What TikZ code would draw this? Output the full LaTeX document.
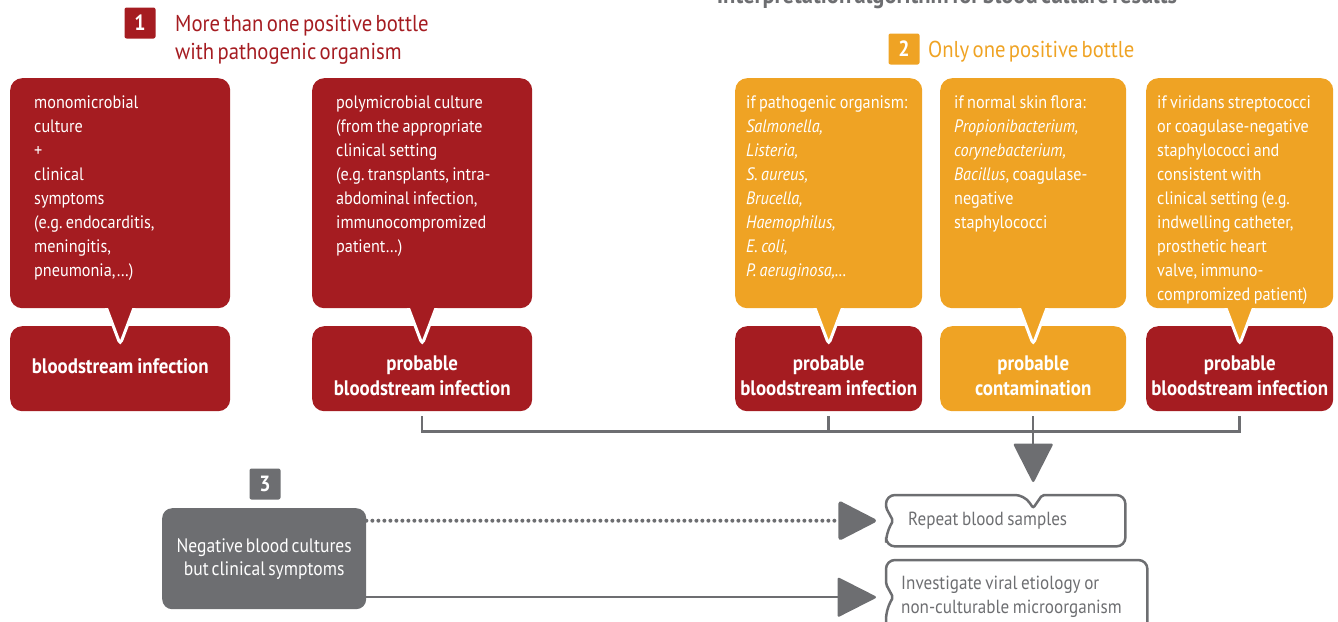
\documentclass[tikz,border=0pt]{standalone}
\usepackage{fontspec}
\setmainfont{PT Sans}[FakeStretch=0.9,WordSpace=0.6]
\usetikzlibrary{calc,arrows.meta}
\definecolor{bred}{HTML}{A51C21}
\definecolor{borange}{HTML}{EFA324}
\definecolor{bgray}{HTML}{6D6E71}
\tikzset{
  tight/.style={execute at begin node={\spaceskip=0.19em\xspaceskip=0.19em\hyphenpenalty=10000}},
  cond/.style={tight,anchor=north west,rounded corners=12,text=white,align=left,
    font=\fontsize{18}{24}\selectfont,inner ysep=14,text height=16,text depth=186},
  result/.style={tight,anchor=north west,rounded corners=12,text=white,align=center,
    font=\fontsize{21}{25}\selectfont\bfseries,inner sep=0,text height=44,text depth=41},
  badge/.style={rounded corners=2,text=white,font=\fontsize{22}{22}\selectfont\bfseries,
    minimum size=31,inner sep=0},
  header/.style={inner sep=0,align=left,font=\fontsize{23}{28}\selectfont},
  conn/.style={draw=bgray,line width=2.5},
  bighead/.style={-{Triangle[length=40pt,width=40pt,round]}},
  dotline/.style={line width=4,dash pattern=on 0pt off 6pt,line cap=round},
  actbox/.style={tight,anchor=north west,text=bgray,align=left,inner ysep=0,
    font=\fontsize{19}{24}\selectfont},
  boxline/.style={draw=bgray,line width=2.5},
  negbox/.style={anchor=north west,fill=bgray,rounded corners=10,text=white,align=center,
    minimum width=204,minimum height=101,inner sep=0,font=\fontsize{19.5}{23}\selectfont}
}
\begin{document}
\begin{tikzpicture}[x=1pt,y=-1pt]
\useasboundingbox (0,0) rectangle (1338,621);
% titles
\node[anchor=base,text=bgray,font=\fontsize{25}{25}\selectfont\bfseries] (title) at (947,4)
  {Interpretation algorithm for blood culture results};
\node[badge,fill=bred] (b1) at (140,23) {1};
\node[header,text=bred,anchor=west] (h1) at (175,40) {More than one positive bottle\\with pathogenic organism};
\node[badge,fill=borange] (b2) at (904,49) {2};
\node[header,text=borange,anchor=base west] (h2) at (928,57) {Only one positive bottle};
% conditions
\node[cond,fill=bred,text width=172,inner xsep=24] (c1) at (10,78)
  {monomicrobial\\culture\\+\\clinical\\symptoms\\(e.g. endocarditis,\\meningitis,\\pneumonia,\ldots)};
\node[cond,fill=bred,text width=172,inner xsep=24] (c2) at (312,78)
  {polymicrobial culture\\(from the appropriate\\clinical setting\\(e.g. transplants, intra-\\abdominal infection,\\immunocompromized\\patient\ldots)};
\node[cond,fill=borange,text width=165,inner xsep=11] (c3) at (735,78)
  {if pathogenic organism:\\\textit{Salmonella,}\\\textit{Listeria,}\\\textit{S. aureus,}\\\textit{Brucella,}\\\textit{Haemophilus,}\\\textit{E. coli,}\\\textit{P. aeruginosa,\ldots}};
\node[cond,fill=borange,text width=158,inner xsep=14] (c4) at (940,78)
  {if normal skin flora:\\\textit{Propionibacterium,}\\\textit{corynebacterium,}\\\textit{Bacillus}, coagulase-\\negative\\staphylococci};
\node[cond,fill=borange,text width=165,inner xsep=11] (c5) at (1146,78)
  {if viridans streptococci\\or coagulase-negative\\staphylococci and\\consistent with\\clinical setting (e.g.\\indwelling catheter,\\prosthetic heart\\valve, immuno-\\compromized patient)};
% results
\node[result,fill=bred,text width=220,text height=47,text depth=38] (r1) at (10,326) {bloodstream infection};
\node[result,fill=bred,text width=220] (r2) at (312,326) {probable\\bloodstream infection};
\node[result,fill=bred,text width=187] (r3) at (735,326) {probable\\bloodstream infection};
\node[result,fill=borange,text width=186] (r4) at (940,326) {probable\\contamination};
\node[result,fill=bred,text width=187] (r5) at (1146,326) {probable\\bloodstream infection};
% pointers
\foreach \n/\c in {1/bred,2/bred,3/borange,4/borange,5/borange}{
  \filldraw[fill=\c,draw=white,line width=3,rounded corners=4]
    ($(c\n.south)+(-14,-1)$) -- ($(c\n.south)+(0,36)$) -- ($(c\n.south)+(14,-1)$);
  \fill[\c] ($(c\n.south)+(-17,-3)$) rectangle ($(c\n.south)+(17,0)$);
}
% next steps
\node[actbox,text width=195,inner xsep=22,minimum height=51] (rep) at (886,495) {Repeat blood samples};
\node[actbox,text width=231,inner xsep=15,minimum height=74] (inv) at (886,560) {Investigate viral etiology or\\non-culturable microorganism};
\coordinate (top) at (rep.north -| r4.south);
\draw[boxline] ($(rep.west)+(0,-13)$) [rounded corners=9] |- ($(top)+(-9,0)$)
  [rounded corners=2] -- ($(top)+(0,13)$) -- ($(top)+(9,0)$)
  [rounded corners=9] -| (rep.south east) -| ($(rep.west)+(0,13)$)
  [rounded corners=2] -- ($(rep.west)+(7,0)$) -- cycle;
\draw[boxline] ($(inv.west)+(0,-13)$) [rounded corners=9] |- (inv.north east)
  -- (inv.south east) -- (inv.south west) -- ($(inv.west)+(0,13)$)
  [rounded corners=2] -- ($(inv.west)+(7,0)$) -- cycle;
% bracket
\draw[conn] ($(r2.south)+(0,5)$) |- ($(r5.south)+(0,20)$) -- ($(r5.south)+(0,5)$);
\draw[conn] ($(r3.south)+(0,5)$) -- ($(r3.south)+(0,20)$);
\draw[conn,bighead] ($(r4.south)+(0,5)$) -- ($(top)+(0,-13)$);
% negative cultures
\node[badge,fill=bgray] (b3) at (265,484) {3};
\node[negbox] (neg) at (162,508) {Negative blood cultures\\but clinical symptoms};
\draw[conn,dotline,bighead] (neg.east |- rep.west) -- ($(rep.west)+(-10,0)$);
\draw[conn,bighead] (neg.east |- inv.west) -- ($(inv.west)+(-10,0)$);
\end{tikzpicture}
\end{document}
